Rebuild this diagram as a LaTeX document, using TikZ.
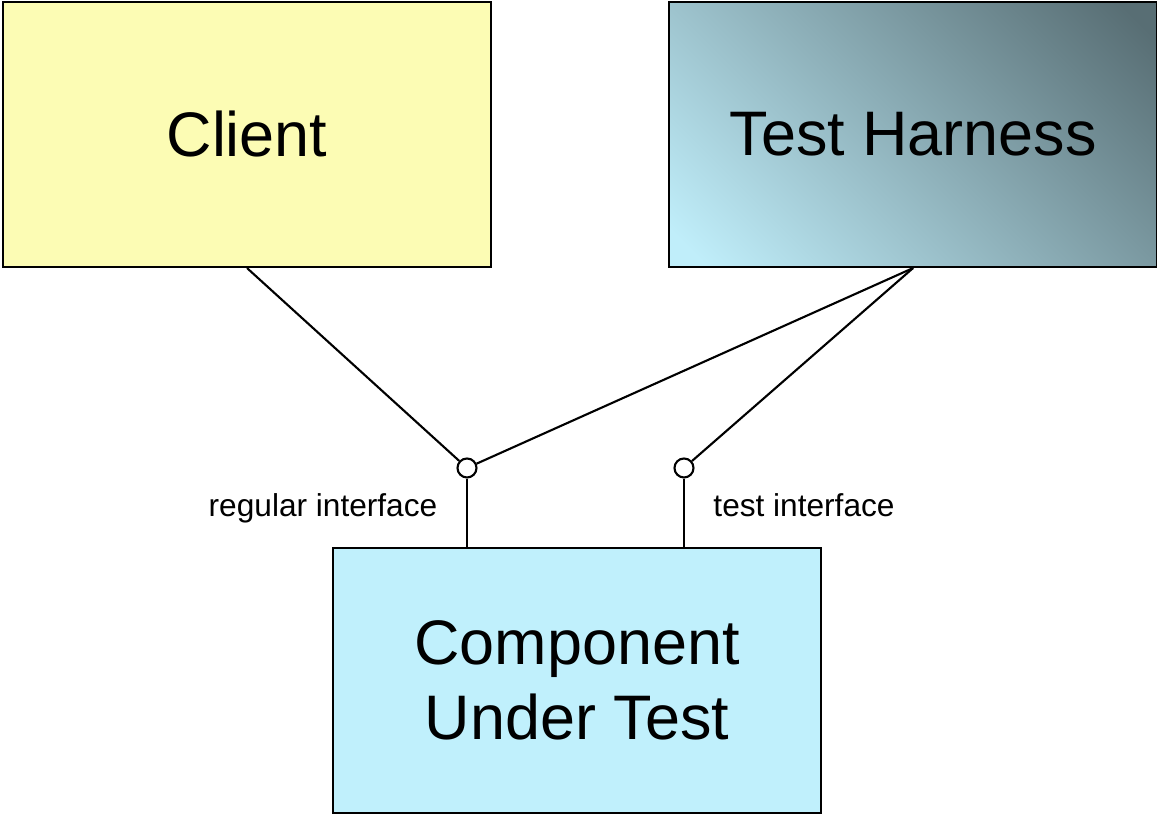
\documentclass[tikz,border=0pt]{standalone}
\usepackage{fontspec}
\setmainfont{Liberation Sans}
\usetikzlibrary{positioning}
\definecolor{clientfill}{RGB}{252,252,180}
\definecolor{cutfill}{RGB}{192,240,252}
\definecolor{thlight}{RGB}{192,238,250}
\definecolor{thdark}{RGB}{88,110,116}
\pgfdeclarehorizontalshading{harnessshade}{100bp}{color(0bp)=(thlight); color(18bp)=(thlight); color(82bp)=(thdark); color(100bp)=(thdark)}
\tikzset{
  box/.style={rectangle, draw=black, line width=0.6pt,
    minimum width=4.88cm, minimum height=2.65cm, align=center,
    inner sep=0pt, font=\fontsize{17.9}{21.5}\selectfont},
  ball/.style={circle, draw=black, fill=white, line width=0.6pt,
    minimum size=0.19cm, inner sep=0pt},
  lbl/.style={font=\fontsize{9}{11}\selectfont, inner sep=0pt},
  line/.style={line width=0.6pt, color=black}
}
\begin{document}
\begin{tikzpicture}
  \useasboundingbox (0,0) rectangle (11.57,8.18);

  % Nodes
  \node[box, fill=clientfill] (client) at (2.47,6.835) {Client};
  \node[box, right=1.76cm of client, shading=harnessshade,
    shading angle=45] (harness) {Test Harness};
  \node[box, fill=cutfill] (cut) at (5.77,1.375) {Component\\Under Test};

  \node[ball] (ifreg) at (4.67,3.50) {};
  \node[ball] (iftest) at (6.84,3.50) {};

  % Lines
  \draw[line] (ifreg) -- (ifreg |- cut.north);
  \draw[line] (iftest) -- (iftest |- cut.north);
  \draw[line] (client.south) -- (ifreg);
  \draw[line] (harness.south) -- (ifreg);
  \draw[line] (harness.south) -- (iftest);

  % Labels
  \node[lbl] (regtxt) at (3.23,3.10) {regular interface};
  \node[lbl] (testtxt) at (8.04,3.13) {test interface};

\end{tikzpicture}
\end{document}
